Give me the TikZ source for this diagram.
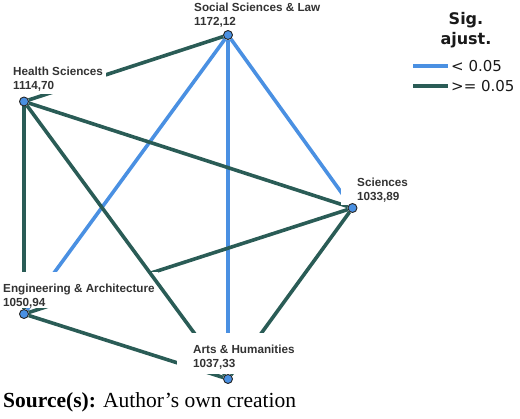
\documentclass[tikz,border=0pt]{standalone}
\usepackage{fontspec}
\usepackage{tikz}
\setmainfont{Liberation Serif}
\newfontfamily\lblfont{Liberation Sans}
\newfontfamily\keyfont{DejaVu Sans}
\definecolor{lowblue}{RGB}{74,144,226}
\definecolor{darkteal}{RGB}{42,92,86}
\pgfdeclarelayer{edges}
\pgfdeclarelayer{masks}
\pgfsetlayers{edges,masks,main}

\begin{document}
\begin{tikzpicture}[x=1pt, y=-1pt,
    dot style/.style={circle, draw=black!85, fill=lowblue, line width=0.9pt, minimum size=9pt, inner sep=0pt},
    label style/.style={anchor=north west, inner sep=0pt, align=left, text=black!80, font=\lblfont\bfseries\fontsize{11.7}{14}\selectfont},
    mask style/.style={fill=white},
    low style/.style={draw=lowblue, line width=3.6pt},
    high style/.style={draw=darkteal, line width=3.6pt},
    key style/.style={anchor=west, inner xsep=3pt, inner ysep=0pt, text=black!90, font=\keyfont\fontsize{15}{18}\selectfont}
]
    \useasboundingbox (0,0) rectangle (520,419);

        \node[dot style] (SSL) at (228,35) {};
        \node[dot style] (HS) at (24,101.5) {};
        \node[dot style] (SC) at (352.5,208) {};
        \node[dot style] (EA) at (24,314) {};
        \node[dot style] (AH) at (228,379) {};

        \node[label style] (tSSL) at (194,2.5) {Social Sciences \& Law\\1172,12};
        \node[label style] (tHS) at (13,66.5) {Health Sciences\\1114,70};
        \node[label style] (tSC) at (357,177.5) {Sciences\\1033,89};
        \node[label style] (tEA) at (3,283.5) {Engineering \& Architecture\\1050,94};
        \node[label style] (tAH) at (193,344.5) {Arts \& Humanities\\1037,33};

        \begin{pgfonlayer}{edges}
        \foreach \a/\b in {SSL/SC, SSL/AH, SSL/EA}
            \draw[low style] (\a) -- (\b);
        \foreach \a/\b in {SSL/HS, HS/SC, HS/EA, SC/EA, SC/AH, EA/AH}
            \draw[high style] (\a) -- (\b);
        \end{pgfonlayer}

        \begin{pgfonlayer}{masks}
        \foreach \t/\p in {tHS/3pt, tSC/2.5pt, tEA/0pt}
            \fill[mask style] ([xshift=-16pt,yshift=11pt]\t.north west) rectangle ([xshift=3pt,yshift=-\p]\t.south east);
        \draw[high style] (HS) -- (AH);
        \fill[mask style] ([xshift=-16pt,yshift=11pt]tAH.north west) rectangle ([xshift=3pt,yshift=-5pt]tAH.south east);
        \end{pgfonlayer}

        \node[anchor=north, align=center, inner sep=0pt, text=black!90, font=\keyfont\bfseries\fontsize{16}{20}\selectfont] (KEY) at (466,12) {Sig.\\ajust.};
        \node[key style] (LOW) at (448,66) {< 0.05};
        \node[key style] (HIGH) at (448,86) {>= 0.05};
        \coordinate (LOWs) at (413,66);
        \coordinate (HIGHs) at (413,86);
        \draw[low style, line width=4.5pt] (LOWs) -- (LOW);
        \draw[high style, line width=4.5pt] (HIGHs) -- (HIGH);

        \node[anchor=base west, inner sep=0pt, font=\fontsize{21.5}{24}\selectfont] (SRC) at (3,408) {\textbf{Source(s):} Author’s own creation};
    \end{tikzpicture}
\end{document}
